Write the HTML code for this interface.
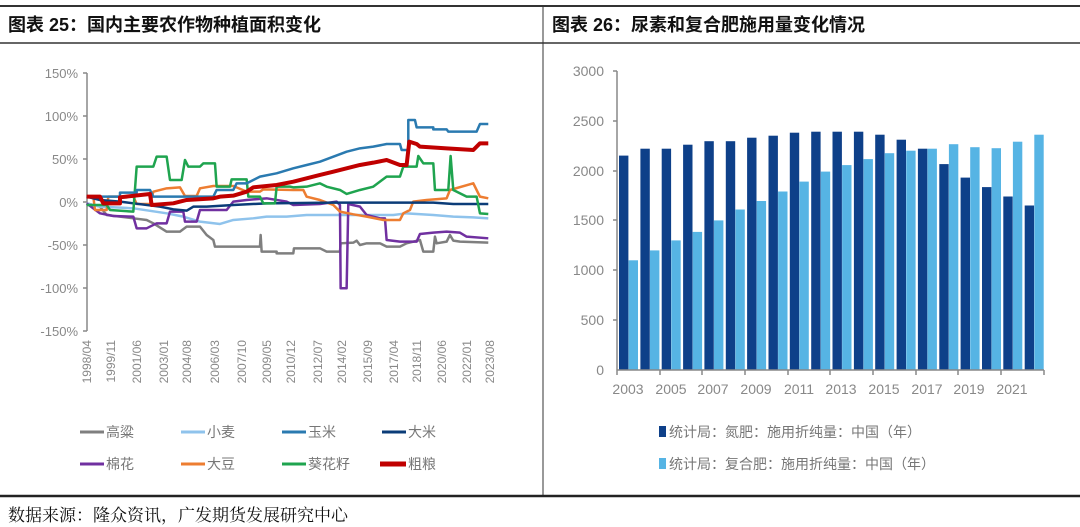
<!DOCTYPE html>
<html><head><meta charset="utf-8"><style>
body{margin:0;background:#fff}
svg{display:block;font-family:"Liberation Sans","Noto Sans CJK SC",sans-serif}
</style></head><body>
<svg width="1080" height="527" viewBox="0 0 1080 527" xmlns="http://www.w3.org/2000/svg">
<rect width="1080" height="527" fill="#fff"/>
<line x1="0" y1="6" x2="1080" y2="6" stroke="#333" stroke-width="2"/>
<line x1="0" y1="43" x2="1080" y2="43" stroke="#666" stroke-width="2"/>
<line x1="543" y1="6" x2="543" y2="496" stroke="#333" stroke-width="1"/>
<line x1="0" y1="496" x2="1080" y2="496" stroke="#222" stroke-width="2.5"/>
<text x="8" y="31" font-size="18" font-weight="bold" fill="#111" font-family="'Liberation Sans','Noto Sans CJK SC',sans-serif">图表 25：国内主要农作物种植面积变化</text>
<text x="552" y="31" font-size="18" font-weight="bold" fill="#111" font-family="'Liberation Sans','Noto Sans CJK SC',sans-serif">图表 26：尿素和复合肥施用量变化情况</text>
<text x="8" y="521" font-size="17" fill="#111" font-family="'Liberation Serif','Noto Serif CJK SC',serif">数据来源：隆众资讯，广发期货发展研究中心</text>

<g stroke="#888" stroke-width="1.5" fill="none">
<line x1="87" y1="73" x2="87" y2="331"/>
<line x1="83" y1="73" x2="87" y2="73"/><line x1="83" y1="116" x2="87" y2="116"/><line x1="83" y1="159" x2="87" y2="159"/><line x1="83" y1="202" x2="87" y2="202"/><line x1="83" y1="245" x2="87" y2="245"/><line x1="83" y1="288" x2="87" y2="288"/><line x1="83" y1="331" x2="87" y2="331"/>
</g>
<g font-size="13" fill="#888" text-anchor="end">
<text x="78" y="78">150%</text><text x="78" y="121">100%</text><text x="78" y="164">50%</text><text x="78" y="207">0%</text><text x="78" y="250">-50%</text><text x="78" y="293">-100%</text><text x="78" y="336">-150%</text>
</g>
<g font-size="12" fill="#888" text-anchor="end">
<text transform="translate(91,340) rotate(-90)">1998/04</text>
<text transform="translate(115,340) rotate(-90)">1999/11</text>
<text transform="translate(141,340) rotate(-90)">2001/06</text>
<text transform="translate(168,340) rotate(-90)">2003/01</text>
<text transform="translate(191,340) rotate(-90)">2004/08</text>
<text transform="translate(219,340) rotate(-90)">2006/03</text>
<text transform="translate(246,340) rotate(-90)">2007/10</text>
<text transform="translate(271,340) rotate(-90)">2009/05</text>
<text transform="translate(295,340) rotate(-90)">2010/12</text>
<text transform="translate(322,340) rotate(-90)">2012/07</text>
<text transform="translate(346,340) rotate(-90)">2014/02</text>
<text transform="translate(372,340) rotate(-90)">2015/09</text>
<text transform="translate(398,340) rotate(-90)">2017/04</text>
<text transform="translate(421,340) rotate(-90)">2018/11</text>
<text transform="translate(446,340) rotate(-90)">2020/06</text>
<text transform="translate(471,340) rotate(-90)">2022/01</text>
<text transform="translate(494,340) rotate(-90)">2023/08</text>
</g>
<g transform="translate(0,50) scale(0.3333)" fill="none" stroke-linejoin="round">
<polyline vector-effect="non-scaling-stroke" stroke="#7f7f7f" stroke-width="2.5" points="260,460 300,470 320,495 360,500 400,505 440,510 460,520 500,545 540,545 560,530 600,530 620,555 640,570 645,590 780,590 782,555 785,605 830,605 830,610 880,610 882,595 960,595 980,605 1020,605 1022,580 1060,578 1070,572 1080,585 1100,580 1140,580 1160,590 1200,590 1220,580 1260,570 1270,605 1300,605 1305,560 1310,580 1340,575 1350,555 1360,572 1380,575 1465,578"/>
<polyline vector-effect="non-scaling-stroke" stroke="#8fc3ec" stroke-width="2.5" points="260,460 300,470 400,475 500,490 550,500 600,515 660,522 700,510 760,505 800,500 860,500 920,495 1000,495 1100,495 1180,495 1220,490 1300,495 1360,500 1420,502 1465,505"/>
<polyline vector-effect="non-scaling-stroke" stroke="#7030a0" stroke-width="2.5" points="260,460 300,490 340,498 400,500 410,535 440,535 470,520 500,520 510,485 550,485 555,515 590,515 600,480 680,480 700,455 740,450 800,445 860,455 880,465 960,462 1010,455 1020,465 1022,715 1040,715 1045,462 1080,470 1100,495 1140,505 1155,505 1160,570 1200,575 1250,575 1260,552 1300,548 1340,545 1380,548 1400,560 1465,565"/>
<polyline vector-effect="non-scaling-stroke" stroke="#ed7d31" stroke-width="2.5" points="260,440 280,440 285,480 320,480 325,440 400,440 410,462 450,462 460,425 500,415 540,412 555,438 590,438 600,415 640,408 700,408 740,425 780,425 790,418 880,420 910,420 920,440 960,450 1000,465 1020,485 1060,493 1100,500 1150,510 1200,510 1210,490 1230,480 1240,455 1280,450 1340,445 1350,420 1420,400 1440,440 1465,445"/>
<polyline vector-effect="non-scaling-stroke" stroke="#0b3c78" stroke-width="2.5" points="260,440 300,450 360,455 400,460 480,470 520,478 560,482 580,470 620,470 700,465 800,460 1000,458 1200,458 1300,458 1360,462 1465,462"/>
<polyline vector-effect="non-scaling-stroke" stroke="#1fa44f" stroke-width="2.5" points="260,465 320,465 330,480 400,485 410,350 460,350 470,320 500,320 510,390 545,390 555,330 565,350 600,350 610,340 645,340 650,410 690,410 695,388 740,388 745,440 780,440 790,460 825,460 830,410 870,410 880,412 920,410 960,400 980,410 1020,420 1040,432 1080,420 1120,410 1160,380 1200,380 1210,350 1250,350 1255,318 1270,340 1300,340 1305,420 1345,420 1352,318 1360,420 1400,440 1430,440 1440,490 1465,492"/>
<polyline vector-effect="non-scaling-stroke" stroke="#2a7ab0" stroke-width="2.5" points="260,440 360,440 360,428 410,428 410,420 450,420 460,440 640,440 650,420 700,420 710,400 740,400 780,380 830,370 880,355 920,345 960,335 1000,320 1040,305 1080,295 1120,290 1160,282 1200,282 1205,300 1225,300 1225,210 1245,210 1250,232 1300,232 1300,238 1340,238 1345,245 1430,245 1440,222 1465,222"/>
<polyline vector-effect="non-scaling-stroke" stroke="#c00000" stroke-width="4" points="260,440 300,440 310,460 360,460 360,442 450,432 455,465 520,460 560,450 640,445 660,440 700,437 740,425 760,412 800,408 830,405 880,395 920,385 960,375 1000,365 1040,355 1080,345 1120,338 1160,330 1200,345 1220,345 1228,275 1250,282 1260,290 1340,295 1420,300 1440,280 1465,280"/>
</g>
<g stroke-width="3">
<line x1="80" y1="432" x2="104" y2="432" stroke="#7f7f7f"/>
<line x1="181" y1="432" x2="205" y2="432" stroke="#8fc3ec"/>
<line x1="282" y1="432" x2="306" y2="432" stroke="#2a7ab0"/>
<line x1="382" y1="432" x2="406" y2="432" stroke="#0b3c78"/>
<line x1="80" y1="464" x2="104" y2="464" stroke="#7030a0"/>
<line x1="181" y1="464" x2="205" y2="464" stroke="#ed7d31"/>
<line x1="282" y1="464" x2="306" y2="464" stroke="#1fa44f"/>
<line x1="380" y1="464" x2="406" y2="464" stroke="#c00000" stroke-width="5"/>
</g>
<g font-size="14" fill="#777">
<text x="106" y="437">高粱</text><text x="207" y="437">小麦</text><text x="308" y="437">玉米</text><text x="408" y="437">大米</text>
<text x="106" y="469">棉花</text><text x="207" y="469">大豆</text><text x="308" y="469">葵花籽</text><text x="408" y="469">粗粮</text>
</g>

<g fill="#0e4089">
<rect x="619.0" y="155.6" width="9.4" height="214.4"/>
<rect x="640.4" y="148.7" width="9.4" height="221.3"/>
<rect x="661.7" y="148.7" width="9.4" height="221.3"/>
<rect x="683.1" y="144.7" width="9.4" height="225.3"/>
<rect x="704.4" y="141.2" width="9.4" height="228.8"/>
<rect x="725.8" y="141.2" width="9.4" height="228.8"/>
<rect x="747.1" y="137.7" width="9.4" height="232.3"/>
<rect x="768.5" y="135.7" width="9.4" height="234.3"/>
<rect x="789.8" y="132.7" width="9.4" height="237.3"/>
<rect x="811.2" y="131.7" width="9.4" height="238.3"/>
<rect x="832.5" y="131.7" width="9.4" height="238.3"/>
<rect x="853.9" y="131.7" width="9.4" height="238.3"/>
<rect x="875.2" y="134.7" width="9.4" height="235.3"/>
<rect x="896.6" y="139.7" width="9.4" height="230.3"/>
<rect x="917.9" y="148.7" width="9.4" height="221.3"/>
<rect x="939.3" y="164.1" width="9.4" height="205.9"/>
<rect x="960.6" y="177.6" width="9.4" height="192.4"/>
<rect x="982.0" y="187.1" width="9.4" height="182.9"/>
<rect x="1003.3" y="196.5" width="9.4" height="173.5"/>
<rect x="1024.7" y="205.5" width="9.4" height="164.5"/>
</g>
<g fill="#56b4e4">
<rect x="628.6" y="260.3" width="9.4" height="109.7"/>
<rect x="650.0" y="250.4" width="9.4" height="119.6"/>
<rect x="671.3" y="240.4" width="9.4" height="129.6"/>
<rect x="692.7" y="231.9" width="9.4" height="138.1"/>
<rect x="714.0" y="220.4" width="9.4" height="149.6"/>
<rect x="735.4" y="209.5" width="9.4" height="160.5"/>
<rect x="756.7" y="201.0" width="9.4" height="169.0"/>
<rect x="778.1" y="191.5" width="9.4" height="178.5"/>
<rect x="799.4" y="181.6" width="9.4" height="188.4"/>
<rect x="820.8" y="171.6" width="9.4" height="198.4"/>
<rect x="842.1" y="165.1" width="9.4" height="204.9"/>
<rect x="863.5" y="159.1" width="9.4" height="210.9"/>
<rect x="884.8" y="153.2" width="9.4" height="216.8"/>
<rect x="906.2" y="150.7" width="9.4" height="219.3"/>
<rect x="927.5" y="148.7" width="9.4" height="221.3"/>
<rect x="948.9" y="144.2" width="9.4" height="225.8"/>
<rect x="970.2" y="147.2" width="9.4" height="222.8"/>
<rect x="991.6" y="148.2" width="9.4" height="221.8"/>
<rect x="1012.9" y="141.7" width="9.4" height="228.3"/>
<rect x="1034.3" y="134.7" width="9.4" height="235.3"/>
</g>
<g stroke="#888" stroke-width="1.5">
<line x1="617" y1="71" x2="617" y2="370"/>
<line x1="617" y1="370" x2="1044" y2="370"/>
<line x1="613" y1="71" x2="617" y2="71"/><line x1="613" y1="121" x2="617" y2="121"/><line x1="613" y1="171" x2="617" y2="171"/><line x1="613" y1="220" x2="617" y2="220"/><line x1="613" y1="270" x2="617" y2="270"/><line x1="613" y1="320" x2="617" y2="320"/>
<line x1="617" y1="370" x2="617" y2="375"/><line x1="660" y1="370" x2="660" y2="375"/><line x1="702" y1="370" x2="702" y2="375"/><line x1="745" y1="370" x2="745" y2="375"/><line x1="788" y1="370" x2="788" y2="375"/><line x1="830" y1="370" x2="830" y2="375"/><line x1="873" y1="370" x2="873" y2="375"/><line x1="916" y1="370" x2="916" y2="375"/><line x1="958" y1="370" x2="958" y2="375"/><line x1="1001" y1="370" x2="1001" y2="375"/><line x1="1044" y1="370" x2="1044" y2="375"/>
</g>
<g font-size="14" fill="#888" text-anchor="end">
<text x="604" y="76">3000</text><text x="604" y="126">2500</text><text x="604" y="176">2000</text><text x="604" y="225">1500</text><text x="604" y="275">1000</text><text x="604" y="325">500</text><text x="604" y="375">0</text>
</g>
<g font-size="14" fill="#888" text-anchor="middle">
<text x="628" y="394">2003</text><text x="671" y="394">2005</text><text x="713" y="394">2007</text><text x="756" y="394">2009</text><text x="799" y="394">2011</text><text x="841" y="394">2013</text><text x="884" y="394">2015</text><text x="927" y="394">2017</text><text x="969" y="394">2019</text><text x="1012" y="394">2021</text>
</g>
<rect x="659" y="426" width="7" height="11" fill="#0e4089"/>
<rect x="659" y="458" width="7" height="11" fill="#56b4e4"/>
<g font-size="14" fill="#777">
<text x="669" y="437">统计局：氮肥：施用折纯量：中国（年）</text>
<text x="669" y="469">统计局：复合肥：施用折纯量：中国（年）</text>
</g>
</svg>
</body></html>
